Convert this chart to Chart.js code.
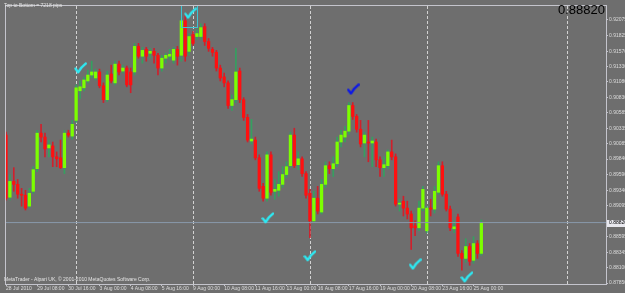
<!DOCTYPE html>
<html>
<head>
<meta charset="utf-8">
<script src="https://cdn.jsdelivr.net/npm/chart.js@4.4.1/dist/chart.umd.min.js"></script>
<style>
  html, body { margin: 0; padding: 0; background: #6e6e6e; overflow: hidden; }
  #wrap { width: 625px; height: 293px; }
</style>
</head>
<body>
<div id="wrap"><canvas id="chart"></canvas></div>
<script>
// H4 candles, bar 0 = 28 Jul 2010 00:00
const opens = [0.90224,0.89227,0.89480,0.89433,0.89275,0.89259,0.89084,0.89322,0.89685,0.90255,
  0.90192,0.90018,0.90050,0.89875,0.89859,0.89701,0.90255,0.90208,0.90460,0.90935,
  0.90983,0.91093,0.91188,0.91141,0.91237,0.91015,0.90793,0.91204,0.91062,0.91363,
  0.91252,0.91300,0.91237,0.91237,0.91648,0.91490,0.91600,0.91537,0.91568,0.91505,
  0.91300,0.91458,0.91490,0.91426,0.91600,0.91505,0.92059,0.91568,0.91837,0.91806,
  0.91806,0.91965,0.91726,0.91600,0.91553,0.91300,0.91157,0.91062,0.90699,0.90793,
  0.91252,0.90793,0.90508,0.90129,0.90144,0.89859,0.89401,0.89211,0.89907,0.89322,
  0.89338,0.89433,0.89591,0.89733,0.90224,0.89749,0.89843,0.89606,0.89290,0.88847,
  0.89211,0.88989,0.89433,0.89733,0.89685,0.89764,0.90113,0.90192,0.90287,0.90699,
  0.90524,0.90318,0.90097,0.90113,0.90097,0.90113,0.89827,0.89701,0.89733,0.89954,
  0.89875,0.89116,0.89163,0.89052,0.88958,0.88768,0.88736,0.89052,0.88688,0.89052,
  0.89036,0.89306,0.89733,0.89275,0.89036,0.88720,0.88910,0.88325,0.88245,0.88435,
  0.88214,0.88483,0.88325];
const highs = [0.90271,0.89591,0.89701,0.89511,0.89369,0.89338,0.89369,0.89717,0.90302,0.90397,
  0.90255,0.90144,0.90113,0.89954,0.90144,0.90302,0.90302,0.90460,0.91030,0.91093,
  0.91157,0.91268,0.91410,0.91284,0.91284,0.91062,0.91252,0.91347,0.91410,0.91410,
  0.91347,0.91332,0.91300,0.91695,0.91695,0.91632,0.91632,0.91616,0.91616,0.91537,
  0.91505,0.91537,0.91600,0.91632,0.91648,0.92091,0.92170,0.91853,0.91885,0.91917,
  0.92012,0.92012,0.91774,0.91632,0.91584,0.91347,0.91220,0.91093,0.90872,0.91616,
  0.91300,0.90825,0.90555,0.90476,0.90192,0.89907,0.89448,0.89954,0.89954,0.89511,
  0.89638,0.89717,0.89796,0.90271,0.90334,0.89954,0.89875,0.89638,0.89353,0.89322,
  0.89401,0.89511,0.89796,0.89796,0.89875,0.90192,0.90302,0.90366,0.90746,0.90746,
  0.90555,0.90460,0.90271,0.90460,0.90192,0.90160,0.89875,0.89875,0.89986,0.90144,
  0.89922,0.89195,0.89243,0.89163,0.89005,0.88847,0.89163,0.89401,0.89084,0.89195,
  0.89401,0.89796,0.89796,0.89322,0.89084,0.88847,0.88958,0.88372,0.88561,0.88483,
  0.88593,0.88530,0.88863];
const lows = [0.89180,0.89180,0.89322,0.89211,0.89084,0.89021,0.89052,0.89290,0.89638,0.90113,
  0.89875,0.89875,0.89717,0.89717,0.89685,0.89606,0.90192,0.90160,0.90429,0.90809,
  0.90935,0.91062,0.91141,0.91109,0.90983,0.90746,0.90762,0.91062,0.91030,0.91188,
  0.91220,0.90999,0.90904,0.91188,0.91458,0.91379,0.91410,0.91458,0.91379,0.91188,
  0.91252,0.91379,0.91442,0.91379,0.91347,0.91410,0.91410,0.91505,0.91663,0.91758,
  0.91758,0.91663,0.91568,0.91490,0.91252,0.91093,0.90999,0.90651,0.90619,0.90746,
  0.90746,0.90460,0.90113,0.90081,0.89827,0.89322,0.89163,0.89163,0.89259,0.89195,
  0.89243,0.89385,0.89543,0.89701,0.89701,0.89669,0.89559,0.89211,0.88577,0.88815,
  0.88958,0.88958,0.89385,0.89606,0.89559,0.89717,0.90034,0.90113,0.90239,0.90476,
  0.90271,0.90034,0.89875,0.89796,0.89717,0.89717,0.89559,0.89559,0.89685,0.89827,
  0.89084,0.89005,0.88926,0.88878,0.88388,0.88609,0.88688,0.89005,0.88656,0.88926,
  0.88973,0.89275,0.89243,0.89005,0.88688,0.88656,0.88277,0.88056,0.88182,0.88135,
  0.88167,0.88245,0.88293];
const closes = [0.89211,0.89480,0.89433,0.89275,0.89259,0.89052,0.89290,0.89669,0.90255,0.90192,
  0.90002,0.90066,0.89875,0.89843,0.89701,0.90255,0.90224,0.90397,0.90983,0.90999,
  0.91109,0.91188,0.91237,0.91237,0.91015,0.90793,0.91188,0.91093,0.91363,0.91237,
  0.91300,0.91030,0.91030,0.91648,0.91490,0.91584,0.91490,0.91568,0.91505,0.91300,
  0.91458,0.91505,0.91521,0.91600,0.91490,0.92059,0.91490,0.91806,0.91695,0.91853,
  0.91949,0.91726,0.91616,0.91553,0.91300,0.91141,0.91062,0.90699,0.90793,0.91237,
  0.90793,0.90508,0.90144,0.90160,0.89859,0.89369,0.89211,0.89907,0.89306,0.89353,
  0.89433,0.89591,0.89717,0.90224,0.89733,0.89843,0.89606,0.89259,0.88847,0.89211,
  0.89005,0.89433,0.89733,0.89685,0.89764,0.90113,0.90224,0.90287,0.90699,0.90524,
  0.90318,0.90081,0.90224,0.90097,0.90129,0.89827,0.89701,0.89749,0.89954,0.89875,
  0.89116,0.89131,0.89052,0.88958,0.88736,0.88736,0.89052,0.89353,0.89052,0.89036,
  0.89322,0.89733,0.89275,0.89036,0.88736,0.88752,0.88325,0.88245,0.88435,0.88198,
  0.88483,0.88325,0.88820];

const dateTicks = [0, 8, 16, 24, 32, 40, 48, 56, 64, 72, 80, 88, 96, 104, 112, 120];
const dateLabels = ["28 Jul 2010", "29 Jul 08:00", "30 Jul 16:00", "3 Aug 00:00", "4 Aug 08:00",
  "5 Aug 16:00", "9 Aug 00:00", "10 Aug 08:00", "11 Aug 16:00", "13 Aug 00:00", "16 Aug 08:00",
  "17 Aug 16:00", "19 Aug 00:00", "20 Aug 08:00", "23 Aug 16:00", "25 Aug 00:00"];
const priceTicks = [0.92075, 0.91825, 0.91570, 0.91330, 0.91080, 0.90830, 0.90585, 0.90335,
  0.90085, 0.89840, 0.89590, 0.89340, 0.89095, 0.88595, 0.88345, 0.88100, 0.87850];
const separators = [18, 48, 78, 108, 144];
const lastPrice = 0.88820;

const cyanChecksX = [19.1, 47.3, 67.2, 78.0, 105.0, 118.3];
const cyanChecksY = [0.91299, 0.92178, 0.88894, 0.88285, 0.88150, 0.87945];
const blueChecksX = [89.1];
const blueChecksY = [0.90959];
const markBoxX = [44.9, 49.0];
const markBoxY = [0.91964, 0.92400];

const bg = "#6e6e6e";
const upBody = "#7cff00";
const downBody = "#ff1010";
const upWick = "#35a060";
const downWick = "#d0202c";
const fontFam = "'Liberation Sans', Arial, sans-serif";

function checkIcon(color) {
  const c = document.createElement("canvas");
  c.width = 13;
  c.height = 12;
  const g = c.getContext("2d");
  g.strokeStyle = color;
  g.lineWidth = 2.3;
  g.lineCap = "round";
  g.lineJoin = "round";
  g.beginPath();
  g.moveTo(1.5, 6.5);
  g.lineTo(4.3, 10.2);
  g.quadraticCurveTo(7, 5, 11.8, 1.5);
  g.stroke();
  return c;
}

const isUp = (i) => closes[i] >= opens[i];
const bodies = opens.map((o, i) => ({ x: i, y: [o, closes[i]] }));
const wicks = opens.map((o, i) => ({ x: i, y: [lows[i], highs[i]] }));

const mt4 = {
  id: "mt4",
  beforeDraw(chart) {
    const c = chart.ctx;
    c.save();
    c.fillStyle = bg;
    c.fillRect(0, 0, chart.width, chart.height);
    c.restore();
  },
  beforeDatasetsDraw(chart) {
    const { ctx: c, chartArea: a, scales } = chart;
    c.save();
    c.strokeStyle = "#d2d2d2";
    c.lineWidth = 1;
    c.setLineDash([3, 2]);
    separators.forEach((s) => {
      const x = Math.round(scales.x.getPixelForValue(s)) + 0.5;
      c.beginPath();
      c.moveTo(x, a.top);
      c.lineTo(x, a.bottom);
      c.stroke();
    });
    c.restore();
  },
  afterDraw(chart) {
    const { ctx: c, chartArea: a, scales } = chart;
    c.save();
    // frame
    c.strokeStyle = "#c4c4cc";
    c.lineWidth = 1;
    c.strokeRect(a.left - 0.5, a.top - 0.5, a.right - a.left + 1, a.bottom - a.top + 1);

    // highlight box round the top check
    c.save();
    c.beginPath();
    c.rect(a.left, a.top, a.right - a.left, a.bottom - a.top);
    c.clip();
    const bx0 = Math.round(scales.x.getPixelForValue(markBoxX[0])) + 0.5;
    const bx1 = Math.round(scales.x.getPixelForValue(markBoxX[1])) + 0.5;
    const by0 = Math.round(scales.y.getPixelForValue(markBoxY[1])) + 0.5;
    const by1 = Math.round(scales.y.getPixelForValue(markBoxY[0])) + 0.5;
    c.strokeStyle = "#3cc4d4";
    c.strokeRect(bx0, by0, bx1 - bx0, by1 - by0);
    c.restore();

    // current price label on the axis
    const py = scales.y.getPixelForValue(lastPrice);
    c.fillStyle = "#e8e8ee";
    c.fillRect(a.right + 1, Math.round(py) - 3, 20, 7);
    c.fillStyle = "#000";
    c.font = `5px ${fontFam}`;
    c.textBaseline = "middle";
    c.textAlign = "left";
    c.fillText(lastPrice.toFixed(5), a.right + 3, py + 0.5);

    // texts
    c.fillStyle = "#e4e4e4";
    c.textBaseline = "middle";
    c.fillText("Top to Bottom = 7218 pips", 4, 5.5);
    c.fillText("MetaTrader - Alpari UK, \u00a9 2001-2010 MetaQuotes Software Corp.", 4, 280);

    c.fillStyle = "#000";
    c.font = `13px ${fontFam}`;
    c.textAlign = "right";
    c.textBaseline = "top";
    c.fillText(lastPrice.toFixed(5), a.right - 1, 4);
    c.restore();
  },
};

new Chart(document.getElementById("chart"), {
  type: "bar",
  data: {
    datasets: [
      {
        data: wicks,
        barThickness: 1,
        grouped: false,
        order: 3,
        backgroundColor: (ctx) => (isUp(ctx.dataIndex) ? upWick : downWick),
      },
      {
        data: bodies,
        barThickness: 2.6,
        minBarLength: 1,
        grouped: false,
        order: 2,
        backgroundColor: (ctx) => (isUp(ctx.dataIndex) ? upBody : downBody),
      },
      {
        type: "line",
        data: [{ x: 0, y: lastPrice }, { x: 154, y: lastPrice }],
        borderColor: "#8898aa",
        borderWidth: 1,
        pointRadius: 0,
        order: 1,
      },
      {
        type: "line",
        data: cyanChecksX.map((x, i) => ({ x: x, y: cyanChecksY[i] })),
        showLine: false,
        pointStyle: checkIcon("#2ee8f2"),
        pointRadius: 5,
        order: 0,
      },
      {
        type: "line",
        data: blueChecksX.map((x, i) => ({ x: x, y: blueChecksY[i] })),
        showLine: false,
        pointStyle: checkIcon("#0c18e8"),
        pointRadius: 5,
        order: 0,
      },
    ],
  },
  options: {
    responsive: true,
    maintainAspectRatio: false,
    animation: false,
    events: [],
    layout: { padding: { left: 2, top: 2, right: 0, bottom: 0 } },
    plugins: { legend: { display: false }, tooltip: { enabled: false } },
    scales: {
      x: {
        type: "linear",
        min: 0,
        max: 154,
        offset: false,
        afterBuildTicks: (s) => {
          s.ticks = dateTicks.map((v) => ({ value: v }));
        },
        afterFit: (s) => {
          s.height = 9;
        },
        ticks: {
          align: "start",
          autoSkip: false,
          maxRotation: 0,
          minRotation: 0,
          padding: 0,
          color: "#dcdcdc",
          font: { size: 5, family: fontFam },
          callback: (v, i) => dateLabels[i],
        },
        grid: { drawOnChartArea: false, offset: false, color: "#c4c4cc", tickLength: 2 },
        border: { display: false },
      },
      y: {
        position: "right",
        min: 0.87834,
        max: 0.92296,
        afterBuildTicks: (s) => {
          s.ticks = priceTicks.map((v) => ({ value: v }));
        },
        afterFit: (s) => {
          s.width = 19;
        },
        ticks: {
          padding: 1,
          color: "#dcdcdc",
          font: { size: 5, family: fontFam },
          callback: (v) => v.toFixed(5),
        },
        grid: { drawOnChartArea: false, color: "#c4c4cc", tickLength: 2 },
        border: { display: false },
      },
    },
  },
  plugins: [mt4],
});
</script>
</body>
</html>
